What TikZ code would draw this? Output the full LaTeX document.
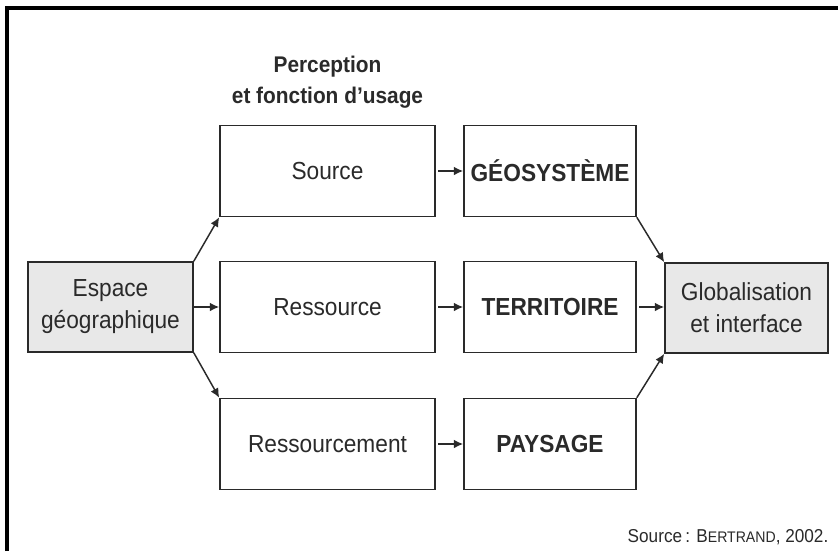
\documentclass[tikz,border=0pt]{standalone}
\usepackage{fontspec}
\setmainfont{Liberation Sans}[FakeStretch=0.92]
\usetikzlibrary{arrows.meta}
\definecolor{ink}{HTML}{2A2A2A}
\definecolor{boxfill}{HTML}{E8E8E8}
\tikzset{
  box/.style={draw=ink, line width=1.2pt, inner sep=0pt, align=center, text=ink,
    font=\fontsize{18.5}{24}\selectfont},
  midbox/.style={box, minimum width=215*0.75pt, minimum height=91*0.75pt},
  conbox/.style={box, minimum width=172*0.75pt, minimum height=91*0.75pt, font=\fontsize{18.5}{24}\selectfont\bfseries},
  endbox/.style={box, fill=boxfill, minimum width=165*0.75pt, minimum height=90*0.75pt},
  arr/.style={draw=ink, line width=1.1pt, -{Latex[length=7pt,width=6.5pt]}},
}
\begin{document}
\begin{tikzpicture}[x=0.75pt, y=-0.75pt]
\useasboundingbox (0,0) rectangle (838,551);
\fill[white] (0,0) rectangle (838,551);
% frame
\draw[black, line width=2.4pt] (7,551) -- (7,8) -- (838,8);
% heading
\node[text=ink, font=\fontsize{17}{23}\selectfont\bfseries, align=center, anchor=base] (head) at (327.5,103)
  {Perception\\et fonction d'usage};
% boxes
\node[endbox] (esp) at (110.5,307) {Espace\\géographique};
\node[midbox] (src) at (327.5,171) {Source};
\node[midbox] (res) at (327.5,307) {Ressource};
\node[midbox] (rsm) at (327.5,444) {Ressourcement};
\node[conbox] (geo) at (550,171) {GÉOSYSTÈME};
\node[conbox] (ter) at (550,307) {TERRITOIRE};
\node[conbox] (pay) at (550,444) {PAYSAGE};
\node[endbox, minimum width=163*0.75pt] (glo) at (746.5,308) {Globalisation\\et interface};
% arrows
\draw[arr] (esp.north east) -- (src.south west);
\draw[arr] (esp.east) -- (esp.east -| res.west);
\draw[arr] (esp.south east) -- (rsm.north west);
\draw[arr, shorten <=2pt] (src.east) -- (geo.west);
\draw[arr, shorten <=2pt] (res.east) -- (ter.west);
\draw[arr, shorten <=2pt] (rsm.east) -- (pay.west);
\draw[arr] (geo.south east) -- (glo.north west);
\draw[arr, shorten <=2pt] (ter.east) -- (ter.east -| glo.west);
\draw[arr] (pay.north east) -- (glo.south west);
% source note
\node[text=ink, anchor=base east, font=\fontsize{14}{16}\selectfont] (note) at (833,542)
  {Source\,: B{\fontsize{11.5}{13}\selectfont ERTRAND}, 2002.};
\end{tikzpicture}
\end{document}
